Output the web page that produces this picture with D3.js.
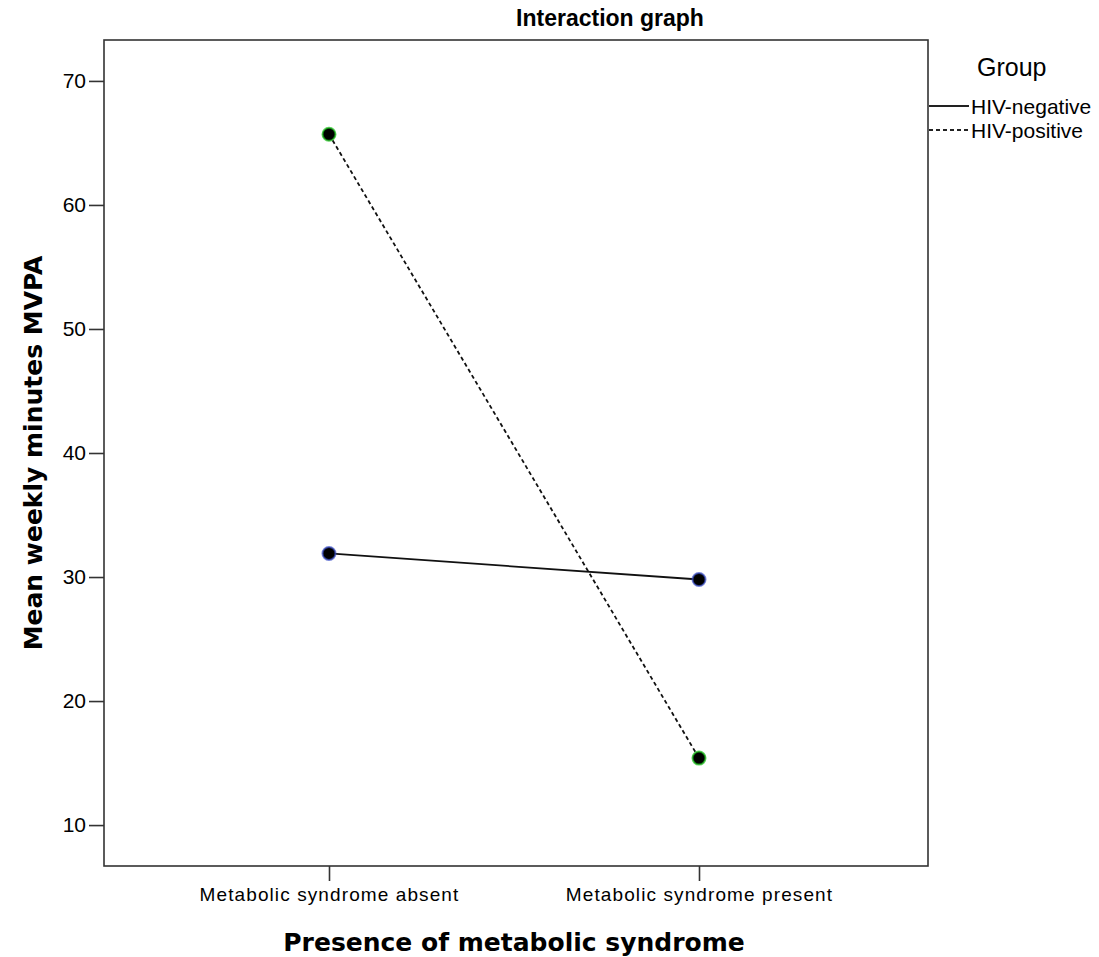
<!DOCTYPE html>
<html>
<head>
<meta charset="utf-8">
<script src="https://cdn.jsdelivr.net/npm/d3@7"></script>
<style>
  body { margin: 0; background: #fff; }
  svg text { font-family: "Liberation Sans", Arial, sans-serif; fill: #000; }
</style>
</head>
<body>
<div id="chart-area"></div>
<script>
// categories and series means
var categories = ["Metabolic syndrome absent", "Metabolic syndrome present"];
var groups = ["HIV-negative", "HIV-positive"];
var hivNegative = [31.9, 29.8];
var hivPositive = [65.7, 15.4];
var yTicks = [10, 20, 30, 40, 50, 60, 70];

var W = 1099, H = 957;
var box = {left: 104, top: 40, right: 928, bottom: 866};

var svg = d3.select("#chart-area").append("svg")
    .attr("width", W)
    .attr("height", H);

var x = d3.scalePoint()
    .domain(categories)
    .range([329, 699]);

var y = d3.scaleLinear()
    .domain([6.7, 73.3])
    .range([box.bottom, box.top]);

// plot frame
svg.append("rect")
    .attr("x", box.left)
    .attr("y", box.top)
    .attr("width", box.right - box.left)
    .attr("height", box.bottom - box.top)
    .attr("fill", "none")
    .attr("stroke", "#333")
    .attr("stroke-width", 1.6);

// y axis
var yAxis = svg.append("g")
    .attr("transform", "translate(" + box.left + ",0)")
    .call(d3.axisLeft(y).tickValues(yTicks).tickSize(15).tickPadding(3));
yAxis.select(".domain").remove();
yAxis.selectAll("line").attr("stroke", "#333").attr("stroke-width", 1.6);
yAxis.selectAll("text")
    .style("font-size", "21px")
    .style("font-family", "Liberation Sans, Arial, sans-serif")
    .attr("fill", "#222");

// x axis
var xAxis = svg.append("g")
    .attr("transform", "translate(0," + box.bottom + ")")
    .call(d3.axisBottom(x).tickSize(15).tickPadding(7));
xAxis.select(".domain").remove();
xAxis.selectAll("line").attr("stroke", "#333").attr("stroke-width", 1.6);
xAxis.selectAll("text")
    .style("font-size", "19px")
    .style("letter-spacing", "1.1px")
    .style("font-family", "Liberation Sans, Arial, sans-serif")
    .attr("fill", "#222");

// titles
svg.append("text")
    .attr("x", 610)
    .attr("y", 26)
    .attr("text-anchor", "middle")
    .style("font-size", "23px")
    .style("font-weight", "bold")
    .text("Interaction graph");

svg.append("text")
    .attr("x", 514)
    .attr("y", 951)
    .attr("text-anchor", "middle")
    .style("font-family", "DejaVu Sans, sans-serif")
    .style("font-size", "25px")
    .style("font-weight", "bold")
    .text("Presence of metabolic syndrome");

svg.append("text")
    .attr("transform", "translate(42,453) rotate(-90)")
    .attr("text-anchor", "middle")
    .style("font-family", "DejaVu Sans, sans-serif")
    .style("font-size", "25px")
    .style("font-weight", "bold")
    .text("Mean weekly minutes MVPA");

// series
var series = [
    {name: groups[0], values: hivNegative, dash: null, ring: "#3a4fc8"},
    {name: groups[1], values: hivPositive, dash: "4,3", ring: "#18c018"}
];

var line = d3.line()
    .x(function(d, i) { return x(categories[i]); })
    .y(function(d) { return y(d); });

series.forEach(function(s) {
    svg.append("path")
        .datum(s.values)
        .attr("d", line)
        .attr("fill", "none")
        .attr("stroke", "#111")
        .attr("stroke-width", 1.8)
        .attr("stroke-dasharray", s.dash);

    svg.selectAll(null)
        .data(s.values)
        .enter()
        .append("circle")
        .attr("cx", function(d, i) { return x(categories[i]); })
        .attr("cy", function(d) { return y(d); })
        .attr("r", 6.5)
        .attr("fill", "#000")
        .attr("stroke", s.ring)
        .attr("stroke-opacity", 0.7)
        .attr("stroke-width", 2);
});

// legend
svg.append("text")
    .attr("x", 977)
    .attr("y", 76)
    .style("font-size", "25px")
    .attr("fill", "#222")
    .text("Group");

var legend = svg.selectAll(".legend")
    .data(series)
    .enter()
    .append("g")
    .attr("transform", function(d, i) { return "translate(929," + (106 + i * 24) + ")"; });

legend.append("line")
    .attr("x1", 0)
    .attr("x2", 40)
    .attr("stroke", "#222")
    .attr("stroke-width", 2)
    .attr("stroke-dasharray", function(d) { return d.dash ? "4,3" : null; });

legend.append("text")
    .attr("x", 42)
    .attr("y", 8)
    .style("font-size", "21px")
    .attr("fill", "#222")
    .text(function(d) { return d.name; });
</script>
</body>
</html>
